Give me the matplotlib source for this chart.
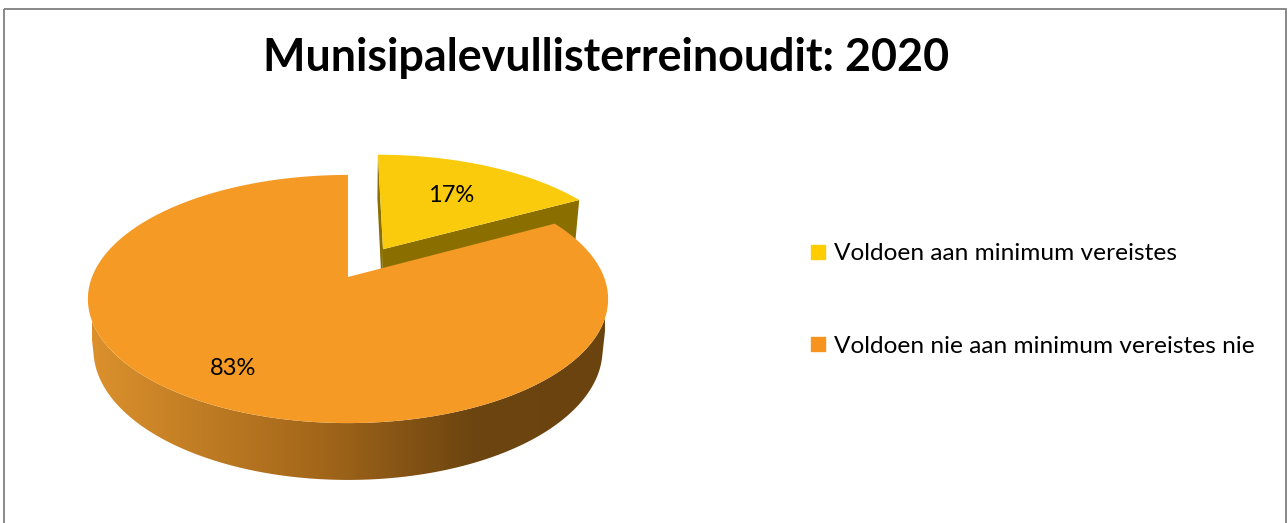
import numpy as np
import matplotlib.pyplot as plt
from matplotlib.patches import Polygon, Rectangle
from matplotlib.colors import LinearSegmentedColormap
from matplotlib.lines import Line2D

# chart data
title = "Munisipalevullisterreinoudit: 2020"
categories = ["Voldoen aan minimum vereistes", "Voldoen nie aan minimum vereistes nie"]
shares = [17, 83]
top_colors = ["#f9cb0c", "#f59b25"]
face_colors = ["#8a6f00", "#6c4410"]
legend_colors = ["#ffcc00", "#f7941d"]
explode = [0.28, 0.0]
label_r = [0.62, 0.78]

# view of the 3d pie (pixel space)
ELEV = np.radians(28)
DIST = 4.98
SCALE = 1275
OX, OY = 348, 277
THICK = 0.226
SN, CS = np.sin(ELEV), np.cos(ELEV)

plt.rcParams['font.family'] = ['Lato', 'DejaVu Sans']


def project(x, y, z):
    # simple perspective camera looking down on the pie
    x, y, z = np.asarray(x, float), np.asarray(y, float), np.asarray(z, float)
    depth = DIST + y * CS - z * SN
    return OX + SCALE * x / depth, OY - SCALE * (y * SN + z * CS) / depth


def rim(ox, oy, t0, t1, z, n=120):
    th = np.radians(np.linspace(t0, t1, n))
    return project(ox + np.cos(th), oy + np.sin(th), np.full(n, z))


def visible_range(lo, hi):
    # part of [lo, hi] where the outer wall faces the camera
    a = np.degrees(np.arcsin(1 / (DIST * CS)))
    for k in (-360, 0, 360):
        v0, v1 = 180 + a + k, 360 - a + k
        s0, s1 = max(lo, v0), min(hi, v1)
        if s1 > s0:
            return s0, s1
    return None


fig = plt.figure(figsize=(12.88, 5.23), dpi=100)
ax = fig.add_axes([0, 0, 1, 1])
ax.set_xlim(0, 1288)
ax.set_ylim(523, 0)
ax.axis("off")

grad_cmap = LinearSegmentedColormap.from_list(
    "side", [(0, "#db902c"), (0.45, "#a2661a"), (0.74, "#6d4510"), (1, "#6a430f")])
left_x, _ = project(-1, 0, 0)
right_x, _ = project(1, 0, 0)

# slice angles: start at 12 o'clock, clockwise
starts = 90 - np.cumsum([0] + shares[:-1]) * 3.6
ends = starts - np.array(shares) * 3.6

slices = []
for i in range(len(shares)):
    mid = np.radians((starts[i] + ends[i]) / 2)
    ox, oy = explode[i] * np.cos(mid), explode[i] * np.sin(mid)
    slices.append((oy, i, ox, mid))

# draw back slices first
for oy, i, ox, mid in sorted(slices, key=lambda s: -s[0] - np.sin(s[3])):
    lo, hi = ends[i], starts[i]
    # radial faces
    for th, sign in ((hi, 1), (lo, -1)):
        r = np.radians(th)
        nx, ny = -np.sin(r) * sign, np.cos(r) * sign
        if nx * (0 - ox) + ny * (-DIST * CS - oy) > 0:
            xs, ys = project([ox, ox + np.cos(r), ox + np.cos(r), ox],
                             [oy, oy + np.sin(r), oy + np.sin(r), oy],
                             [0, 0, -THICK, -THICK])
            ax.add_patch(Polygon(np.column_stack([xs, ys]), closed=True,
                                 facecolor=face_colors[i], edgecolor="none", zorder=2))
    # outer wall
    vr = visible_range(lo, hi)
    if vr is not None:
        tx, ty = rim(ox, oy, vr[0], vr[1], 0)
        bx, by = rim(ox, oy, vr[1], vr[0], -THICK)
        wall = Polygon(np.column_stack([np.r_[tx, bx], np.r_[ty, by]]), closed=True,
                       facecolor="none", edgecolor="none", zorder=2)
        ax.add_patch(wall)
        if i == 1:
            img = ax.imshow(np.linspace(0, 1, 256)[None, :], cmap=grad_cmap, aspect="auto",
                            extent=(left_x, right_x, 523, 0), zorder=2)
            img.set_clip_path(wall)
        else:
            wall.set_facecolor(face_colors[i])
    # top face
    px, py = project(ox, oy, 0)
    rx, ry = rim(ox, oy, hi, lo, 0)
    ax.add_patch(Polygon(np.column_stack([np.r_[px, rx], np.r_[py, ry]]), closed=True,
                         facecolor=top_colors[i], edgecolor="none", zorder=3))
    # percentage label
    lx, ly = project(ox + label_r[i] * np.cos(mid), oy + label_r[i] * np.sin(mid), 0)
    ax.text(lx, ly, f"{shares[i]}%", ha="center", va="center", fontsize=17,
            color="#000000", zorder=4)

ax.set_xlim(0, 1288)
ax.set_ylim(523, 0)

ax.text(606, 71, title, ha="center", va="baseline", fontsize=32.3, fontweight="bold",
        color="#000000")

handles = [Line2D([], [], marker="s", linestyle="none", markersize=9.4,
                  markerfacecolor=c, markeredgecolor=c) for c in legend_colors]
fig.legend(handles, categories, loc="center left", bbox_to_anchor=(810 / 1288, 1 - 300 / 523),
           frameon=False, fontsize=17.6, labelspacing=2.92, handlelength=0.65,
           handletextpad=0.33, borderpad=0, borderaxespad=0)

ax.add_patch(Rectangle((4, 9), 1282, 530, fill=False, edgecolor="#7f7f7f", linewidth=1.3,
                       clip_on=False))

fig.savefig("out.png", dpi=100)
